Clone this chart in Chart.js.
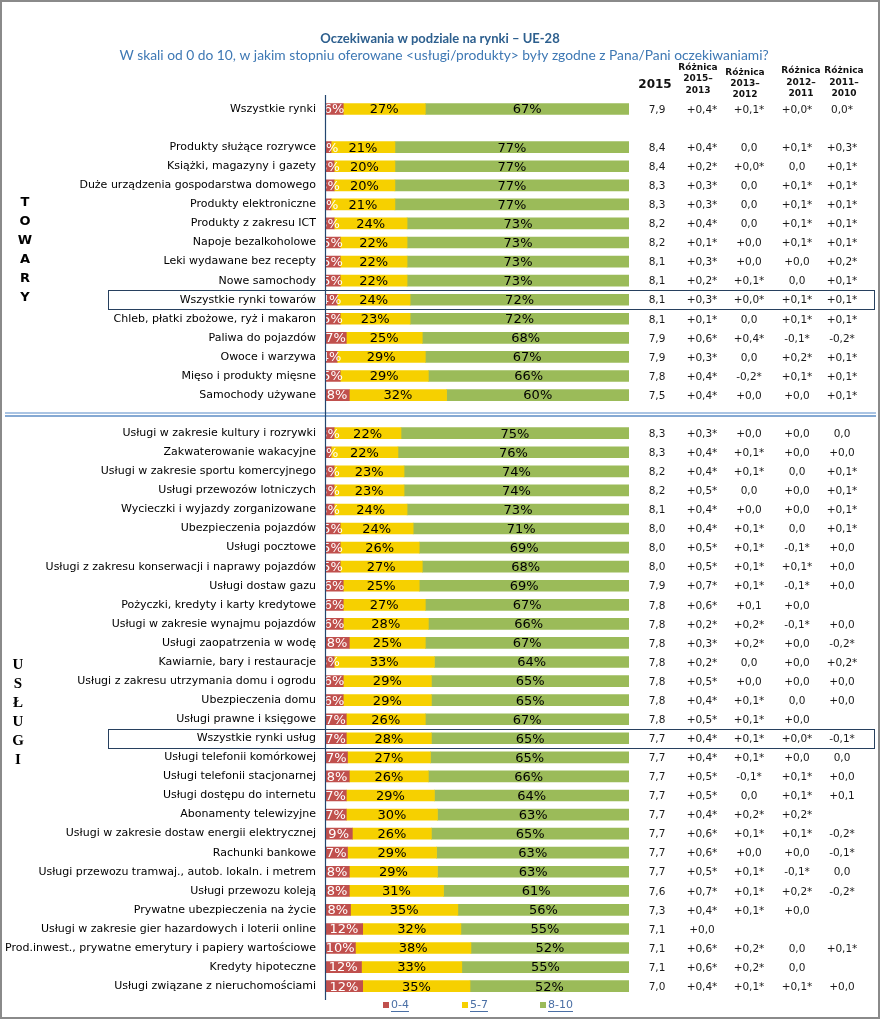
<!DOCTYPE html>
<html><head><meta charset="utf-8">
<script src="https://cdn.jsdelivr.net/npm/chart.js@4.4.1/dist/chart.umd.min.js"></script>
<style>html,body{margin:0;padding:0;background:#fff}#wrap{position:relative;width:880px;height:1020px}</style>
</head><body><div id="wrap"><canvas id="c" width="880" height="1020"></canvas></div>
<script>
const categories = [
 'Wszystkie rynki','',
 'Produkty służące rozrywce','Książki, magazyny i gazety','Duże urządzenia gospodarstwa domowego','Produkty elektroniczne','Produkty z zakresu ICT','Napoje bezalkoholowe','Leki wydawane bez recepty','Nowe samochody','Wszystkie rynki towarów','Chleb, płatki zbożowe, ryż i makaron','Paliwa do pojazdów','Owoce i warzywa','Mięso i produkty mięsne','Samochody używane',
 '',
 'Usługi w zakresie kultury i rozrywki','Zakwaterowanie wakacyjne','Usługi w zakresie sportu komercyjnego','Usługi przewozów lotniczych','Wycieczki i wyjazdy zorganizowane','Ubezpieczenia pojazdów','Usługi pocztowe','Usługi z zakresu konserwacji i naprawy pojazdów','Usługi dostaw gazu','Pożyczki, kredyty i karty kredytowe','Usługi w zakresie wynajmu pojazdów','Usługi zaopatrzenia w wodę','Kawiarnie, bary i restauracje','Usługi z zakresu utrzymania domu i ogrodu','Ubezpieczenia domu','Usługi prawne i księgowe','Wszystkie rynki usług','Usługi telefonii komórkowej','Usługi telefonii stacjonarnej','Usługi dostępu do internetu','Abonamenty telewizyjne','Usługi w zakresie dostaw energii elektrycznej','Rachunki bankowe','Usługi przewozu tramwaj., autob. lokaln. i metrem','Usługi przewozu koleją','Prywatne ubezpieczenia na życie','Usługi w zakresie gier hazardowych i loterii online','Prod.inwest., prywatne emerytury i papiery wartościowe','Kredyty hipoteczne','Usługi związane z nieruchomościami'
];
// shares in %, estimated (labels are shown rounded)
const low04 = [6,null, 2,3,3,2,3,5,5,5,4,5,7,4,5,8, null,
 3,2,3,3,3,5,5,5,6,6,6,8,3,6,6,7,7,7.4,8,7,7,9,7.4,8,8,8.4,12.4,10,12,12.4];
const mid57 = [27,null, 21,20,20,21,24,22,22,22,24,23,25,29,29,32, null,
 22,22,23,23,24,24,26,27,25,27,28,25,33,29,29,26,28,27.3,26,29,30,26,29.3,29,31,35.3,32.3,38,33,35.3];
const high810 = [67,null, 77,77,77,77,73,73,73,73,72,72,68,67,66,60, null,
 75,76,74,74,73,71,69,68,69,67,66,67,64,65,65,67,65,65.3,66,64,63,65,63.3,63,61,56.3,55.3,52,55,52.3];
const score2015 = ['7,9','', '8,4','8,4','8,3','8,3','8,2','8,2','8,1','8,1','8,1','8,1','7,9','7,9','7,8','7,5','',
 '8,3','8,3','8,2','8,2','8,1','8,0','8,0','8,0','7,9','7,8','7,8','7,8','7,8','7,8','7,8','7,8','7,7','7,7','7,7','7,7','7,7','7,7','7,7','7,7','7,6','7,3','7,1','7,1','7,1','7,0'];
const diff2015_2013 = ['+0,4*','', '+0,4*','+0,2*','+0,3*','+0,3*','+0,4*','+0,1*','+0,3*','+0,2*','+0,3*','+0,1*','+0,6*','+0,3*','+0,4*','+0,4*','',
 '+0,3*','+0,4*','+0,4*','+0,5*','+0,4*','+0,4*','+0,5*','+0,5*','+0,7*','+0,6*','+0,2*','+0,3*','+0,2*','+0,5*','+0,4*','+0,5*','+0,4*','+0,4*','+0,5*','+0,5*','+0,4*','+0,6*','+0,6*','+0,5*','+0,7*','+0,4*','+0,0','+0,6*','+0,6*','+0,4*'];
const diff2013_2012 = ['+0,1*','', '0,0','+0,0*','0,0','0,0','0,0','+0,0','+0,0','+0,1*','+0,0*','0,0','+0,4*','0,0','-0,2*','+0,0','',
 '+0,0','+0,1*','+0,1*','0,0','+0,0','+0,1*','+0,1*','+0,1*','+0,1*','+0,1','+0,2*','+0,2*','0,0','+0,0','+0,1*','+0,1*','+0,1*','+0,1*','-0,1*','0,0','+0,2*','+0,1*','+0,0','+0,1*','+0,1*','+0,1*','','+0,2*','+0,2*','+0,1*'];
const diff2012_2011 = ['+0,0*','', '+0,1*','0,0','+0,1*','+0,1*','+0,1*','+0,1*','+0,0','0,0','+0,1*','+0,1*','-0,1*','+0,2*','+0,1*','+0,0','',
 '+0,0','+0,0','0,0','+0,0','+0,0','0,0','-0,1*','+0,1*','-0,1*','+0,0','-0,1*','+0,0','+0,0','+0,0','0,0','+0,0','+0,0*','+0,0','+0,1*','+0,1*','+0,2*','+0,1*','+0,0','-0,1*','+0,2*','+0,0','','0,0','0,0','+0,1*'];
const diff2011_2010 = ['0,0*','', '+0,3*','+0,1*','+0,1*','+0,1*','+0,1*','+0,1*','+0,2*','+0,1*','+0,1*','+0,1*','-0,2*','+0,1*','+0,1*','+0,1*','',
 '0,0','+0,0','+0,1*','+0,1*','+0,1*','+0,1*','+0,0','+0,0','+0,0','','+0,0','-0,2*','+0,2*','+0,0','+0,0','','-0,1*','0,0','+0,0','+0,1','','-0,2*','-0,1*','0,0','-0,2*','','','+0,1*','','+0,0'];
const tableColumns = [score2015, diff2015_2013, diff2013_2012, diff2012_2011, diff2011_2010];
const highlightRows = ['Wszystkie rynki towarów','Wszystkie rynki usług'];
const seriesNames = ['0-4','5-7','8-10'];

const colX = [657, 702, 749, 797, 842];
const FONT = '"DejaVu Sans", Verdana, sans-serif';

const decor = {
  id: 'decor',
  beforeDraw(chart) {
    const ctx = chart.ctx, y = chart.scales.y;
    ctx.save();
    ctx.fillStyle = '#fff'; ctx.fillRect(0,0,880,1020);
    ctx.textAlign = 'center'; ctx.textBaseline = 'middle';
    ctx.fillStyle = '#2D5F8E';
    ctx.font = 'bold 13px Lato, sans-serif';
    ctx.fillText('Oczekiwania w podziale na rynki – UE-28', 440, 39);
    ctx.fillStyle = '#3E78B4';
    ctx.font = '13.8px Lato, sans-serif';
    ctx.fillText('W skali od 0 do 10, w jakim stopniu oferowane <usługi/produkty> były zgodne z Pana/Pani oczekiwaniami?', 444, 56);
    ctx.fillStyle = '#111';
    ctx.font = 'bold 12px ' + FONT;
    ctx.fillText('2015', 655, 85);
    ctx.font = 'bold 9px ' + FONT;
    const hdr = [[698,[68,79,91],['Różnica','2015–','2013']],[745,[73,84,95],['Różnica','2013–','2012']],[801,[71,83,94],['Różnica','2012–','2011']],[844,[71,83,94],['Różnica','2011–','2010']]];
    hdr.forEach(h => h[2].forEach((t,i) => ctx.fillText(t, h[0], h[1][i])));
    const sepIdx = categories.indexOf('', 2);
    const sy = y.getPixelForValue(sepIdx);
    ctx.strokeStyle = '#8EB1DA'; ctx.lineWidth = 1.5;
    ctx.beginPath(); ctx.moveTo(5, sy - 1); ctx.lineTo(876, sy - 1); ctx.stroke();
    ctx.strokeStyle = '#5D8CC4';
    ctx.beginPath(); ctx.moveTo(5, sy + 2); ctx.lineTo(876, sy + 2); ctx.stroke();
    ctx.strokeStyle = '#27405E'; ctx.lineWidth = 1;
    highlightRows.forEach(r => {
      const py = y.getPixelForValue(categories.indexOf(r));
      ctx.strokeRect(108.5, Math.round(py - 9.5) + 0.5, 766, 19);
    });
    ctx.fillStyle = '#000';
    ctx.font = 'bold 13px ' + FONT;
    'TOWARY'.split('').forEach((ch,i) => ctx.fillText(ch, 25, 203 + i*19));
    ctx.font = 'bold 15px "Liberation Serif", serif';
    'USŁUGI'.split('').forEach((ch,i) => ctx.fillText(ch, 18, 665 + i*19));
    ctx.strokeStyle = '#8a8a8a'; ctx.lineWidth = 2;
    ctx.strokeRect(1, 1, 878, 1017);
    ctx.restore();
  },
  afterDatasetsDraw(chart) {
    const ctx = chart.ctx, a = chart.chartArea, y = chart.scales.y;
    ctx.save();
    ctx.save();
    ctx.beginPath(); ctx.rect(a.left + 1, a.top, a.right - a.left, a.bottom - a.top); ctx.clip();
    ctx.font = '13px ' + FONT; ctx.textAlign = 'center'; ctx.textBaseline = 'middle';
    chart.data.datasets.forEach((ds, di) => {
      const meta = chart.getDatasetMeta(di);
      meta.data.forEach((bar, i) => {
        const v = ds.data[i];
        if (v == null) return;
        ctx.fillStyle = di === 0 ? '#fff' : '#000';
        ctx.fillText(Math.round(v) + '%', (bar.x + bar.base) / 2, bar.y + 1);
      });
    });
    ctx.restore();
    ctx.strokeStyle = '#23466F'; ctx.lineWidth = 1.2;
    ctx.beginPath(); ctx.moveTo(a.left + 0.5, 95); ctx.lineTo(a.left + 0.5, 1000); ctx.stroke();
    ctx.fillStyle = '#1a1a1a'; ctx.font = '10.5px ' + FONT;
    ctx.textAlign = 'center'; ctx.textBaseline = 'middle';
    tableColumns.forEach((col, ci) => col.forEach((t, i) => {
      if (t) ctx.fillText(t, colX[ci], y.getPixelForValue(i) + 1);
    }));
    const lx = [383, 462, 540];
    ctx.textAlign = 'left'; ctx.font = '11px ' + FONT;
    chart.data.datasets.forEach((ds, di) => {
      ctx.fillStyle = ds.backgroundColor;
      ctx.fillRect(lx[di], 1002, 6, 6);
      ctx.fillStyle = '#4A6FA5';
      ctx.fillText(ds.label, lx[di] + 8, 1005);
      const w = ctx.measureText(ds.label).width;
      ctx.fillRect(lx[di] + 8, 1011, w, 1);
    });
    ctx.restore();
  }
};

new Chart(document.getElementById('c'), {
  type: 'bar',
  data: {
    labels: categories,
    datasets: [
      { label: seriesNames[0], data: low04, backgroundColor: '#C0504D' },
      { label: seriesNames[1], data: mid57, backgroundColor: '#F6D000' },
      { label: seriesNames[2], data: high810, backgroundColor: '#9BBB59' }
    ]
  },
  options: {
    indexAxis: 'y',
    responsive: false,
    animation: false,
    devicePixelRatio: 1,
    barThickness: 11,
    layout: { padding: { left: 0, top: 99.5, right: 251, bottom: 24.3 } },
    plugins: { legend: { display: false }, tooltip: { enabled: false } },
    scales: {
      x: { stacked: true, min: 0, max: 100, display: false },
      y: {
        stacked: true,
        grid: { display: false, drawTicks: false },
        border: { display: false },
        ticks: { color: '#000', font: { family: 'DejaVu Sans', size: 11 }, padding: 9, autoSkip: false },
        afterFit(s) { s.width = 325; }
      }
    }
  },
  plugins: [decor]
});
</script></body></html>
